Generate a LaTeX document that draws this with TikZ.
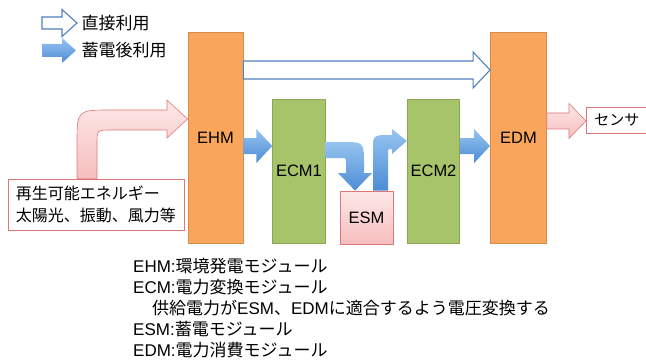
\documentclass[tikz,border=0pt]{standalone}
\usepackage{fontspec}
\setmainfont{Liberation Sans}
\newfontfamily\jp{Noto Sans CJK JP}
\usetikzlibrary{calc}
\definecolor{ehmorange}{RGB}{249,166,92}
\definecolor{ehmborder}{RGB}{214,140,74}
\definecolor{ecmgreen}{RGB}{168,196,106}
\definecolor{ecmborder}{RGB}{138,168,82}
\definecolor{esmpink}{RGB}{247,190,190}
\definecolor{esmlight}{RGB}{253,232,232}
\definecolor{pinkborder}{RGB}{222,120,120}
\definecolor{arrowblue}{RGB}{79,129,189}
\definecolor{bluelight}{RGB}{150,196,240}
\definecolor{bluedark}{RGB}{78,140,214}

% flat block arrow: style, from, to, y, half body, half head, head length
\newcommand{\blockarrow}[7]{%
  \path[#1] ($(#2 |- 0,#4)+(0,-#5)$) -- ($(#3 |- 0,#4)+(-#7,-#5)$) -- ($(#3 |- 0,#4)+(-#7,-#6)$)
    -- (#3 |- 0,#4) -- ($(#3 |- 0,#4)+(-#7,#6)$) -- ($(#3 |- 0,#4)+(-#7,#5)$) -- ($(#2 |- 0,#4)+(0,#5)$) -- cycle;}

\tikzset{
  harvest/.style={draw=ehmborder, fill=ehmorange, line width=0.8pt, minimum width=55pt, minimum height=211pt, font=\fontsize{16.5}{20}\selectfont},
  convert/.style={draw=ecmborder, fill=ecmgreen, line width=0.8pt, minimum width=50pt, minimum height=144pt, font=\fontsize{16.5}{20}\selectfont},
  storage/.style={draw=pinkborder, top color=esmlight, bottom color=esmpink, line width=0.8pt, minimum width=53pt, minimum height=53pt, font=\fontsize{16.5}{20}\selectfont},
  textbox/.style={draw=pinkborder, fill=white, line width=0.8pt, align=left},
  hollow/.style={draw=arrowblue, fill=white, line width=1.1pt, line join=miter},
  bluefill/.style={top color=bluelight, bottom color=bluedark},
  pinkfill/.style={draw=pinkborder, top color=esmlight, bottom color=esmpink, line width=0.6pt}
}

\begin{document}
\begin{tikzpicture}[x=1pt, y=-1pt]
  \useasboundingbox (0,0) rectangle (646,361);
  \clip (0,0) rectangle (646,361);

  % Modules
  \node[harvest] (ehm) at (215.5,137.5) {EHM};
  \node[harvest, minimum width=56pt] (edm) at (518.5,137.5) {EDM};
  \node[convert] (ecm1) at (299,171) {ECM1};
  \node[convert, minimum width=49pt] (ecm2) at (433.5,171) {ECM2};
  \node[storage] (esm) at (366.5,217.5) {ESM};

  % Source and sensor
  \node[textbox, minimum width=176pt, minimum height=51pt, font=\jp\fontsize{16}{22}\selectfont] (src) at (96,204.5)
    {再生可能エネルギー\\太陽光、振動、風力等};
  \node[textbox, anchor=west, minimum height=26pt, inner xsep=8pt, text width=70pt, font=\jp\fontsize{15}{18}\selectfont] (sensor) at (586,120) {センサ};

  % Direct use
  \blockarrow{hollow}{ehm.east}{edm.west}{70}{9}{18}{17}

  % Use after storage
  \blockarrow{bluefill}{ehm.east}{ecm1.west}{146}{8}{17}{16}
  \blockarrow{bluefill}{ecm2.east}{edm.west}{146}{8}{17}{16}
  \path[bluefill] (ecm1.east |- 0,142) -- (342,142) .. controls (364,142) .. (364,164) -- (364,173) -- (372,173)
    -- (esm.north -| 355,0) -- (338,173) -- (346,173) -- (346,163) .. controls (346,158) .. (341,158) -- (ecm1.east |- 0,158) -- cycle;
  \path[bluefill] (esm.north -| 373,0) -- (373,152) .. controls (373,135) .. (390,135) -- (392,135) -- (392,129)
    -- (ecm2.west |- 0,141) -- (392,154) -- (392,149) .. controls (388,149) .. (388,153) -- (esm.north -| 388,0) -- cycle;

  % Energy in and out
  \path[pinkfill] (src.north -| 77,0) -- (77,144) .. controls (77,110) .. (111,110) -- (167,110) -- (167,100)
    -- (ehm.west |- 0,119) -- (167,138) -- (167,130) -- (111,130) .. controls (97,130) .. (97,144) -- (src.north -| 97,0) -- cycle;
  \blockarrow{pinkfill}{edm.east}{sensor.west}{121}{8}{17.5}{17}

  % Legend
  \blockarrow{hollow}{42,0}{77,0}{23}{6}{13.5}{15}
  \blockarrow{bluefill}{42,0}{76,0}{50.5}{6.5}{12.5}{14}
  \node[anchor=west, font=\jp\fontsize{17}{20}\selectfont] (lgdirect) at (78,23) {直接利用};
  \node[anchor=west, font=\jp\fontsize{17}{20}\selectfont] (lgstored) at (78,50.5) {蓄電後利用};

  % Notes
  \node[anchor=north west, align=left, inner sep=0pt, font=\fontsize{17}{21}\selectfont] (notes) at (133,258) {%
    EHM:{\jp 環境発電モジュール}\\
    ECM:{\jp 電力変換モジュール}\\
    \hspace*{19pt}{\jp 供給電力が}ESM{\jp 、}EDM{\jp に適合するよう電圧変換する}\\
    ESM:{\jp 蓄電モジュール}\\
    EDM:{\jp 電力消費モジュール}};
\end{tikzpicture}
\end{document}
